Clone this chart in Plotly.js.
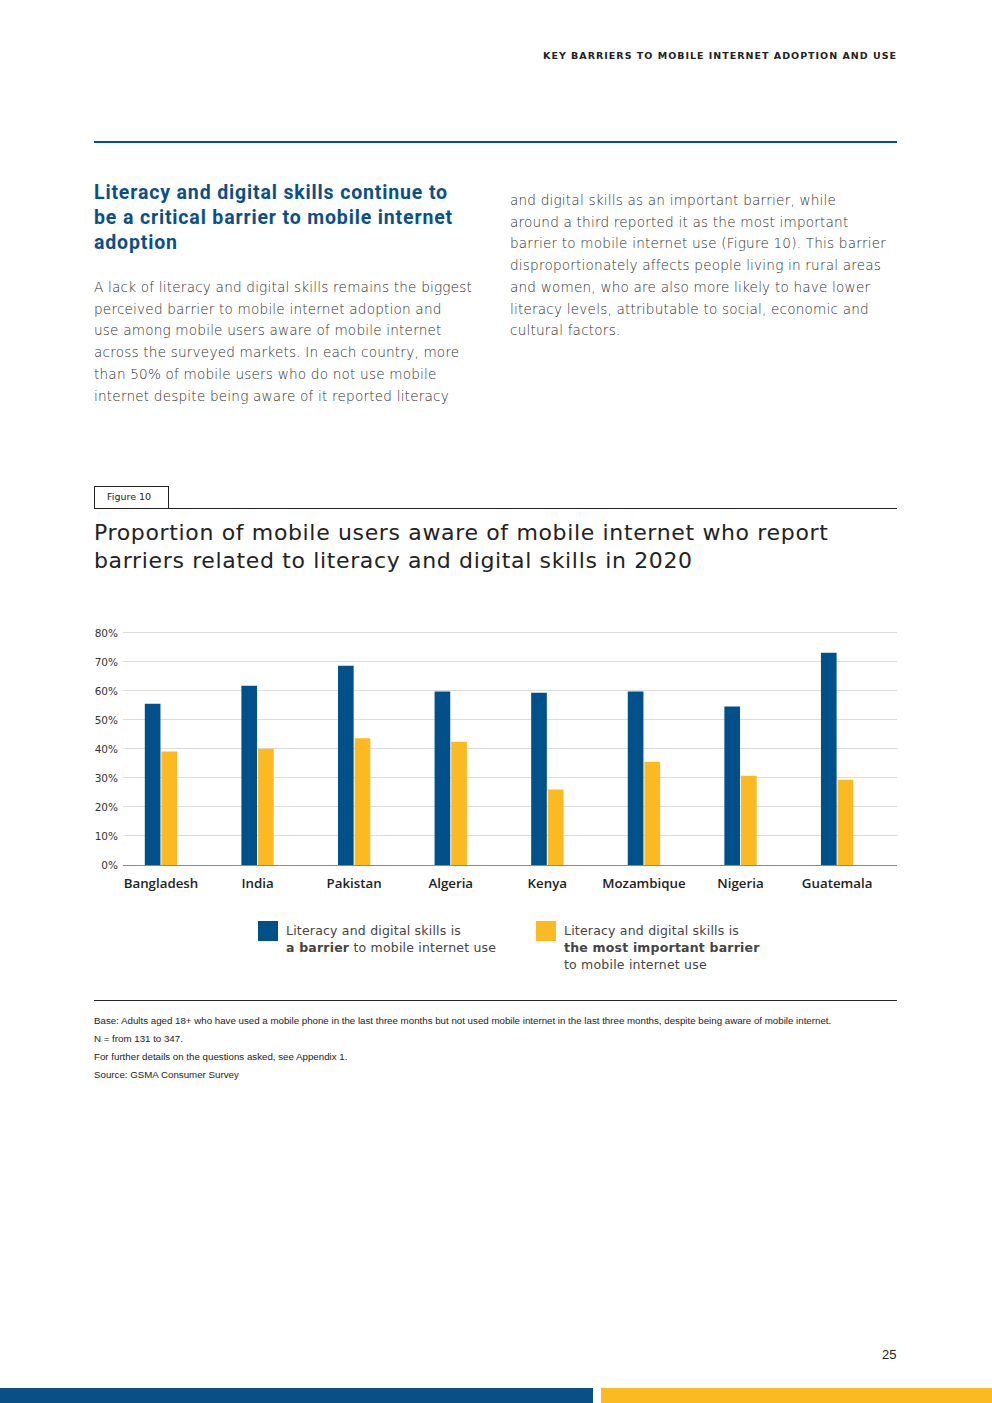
<!DOCTYPE html>
<html>
<head>
<meta charset="utf-8">
<script src="https://cdn.plot.ly/plotly-3.0.1.min.js"></script>
<style>
  html, body { margin:0; padding:0; background:#fff; }
  #page { position:relative; width:992px; height:1403px; overflow:hidden; font-family:"DejaVu Sans", sans-serif; color:#333; }
  .abs { position:absolute; white-space:pre; }
  #chart { position:absolute; left:0; top:0; width:992px; height:1403px; }
  .hdr { right:95px; top:50px; font-size:9.5px; font-weight:bold; letter-spacing:1.0px; color:#222; }
  .rule { position:absolute; left:94px; width:803px; }
  .heading { left:94px; top:180px; font-family:Roboto, sans-serif; font-weight:bold; color:#0B4F87; font-size:19.5px; line-height:25px; letter-spacing:0.85px; }
  .body { font-size:13.6px; line-height:21.7px; color:#2e2e2e; font-family:"DejaVu Sans", sans-serif; font-weight:300; letter-spacing:0.2px; }
  .title { left:94px; top:519px; font-size:22px; line-height:28px; color:#222; letter-spacing:0.65px; }
  .leg { font-size:12.5px; line-height:17px; color:#444; letter-spacing:0.2px; }
  .sw { position:absolute; width:20px; height:20px; }
  .foot { left:94px; font-family:"Liberation Sans", sans-serif; font-size:9.72px; color:#222; }
</style>
</head>
<body>
<div id="page">
  <div id="chart"></div>

  <div class="abs hdr">KEY BARRIERS TO MOBILE INTERNET ADOPTION AND USE</div>
  <div class="rule" style="top:141px;height:2px;background:#0B4F87;"></div>

  <div class="abs heading">Literacy and digital skills continue to
be a critical barrier to mobile internet
adoption</div>

  <div class="abs body" style="left:94px;top:277px;">A lack of literacy and digital skills remains the biggest
perceived barrier to mobile internet adoption and
use among mobile users aware of mobile internet
across the surveyed markets. In each country, more
than 50% of mobile users who do not use mobile
internet despite being aware of it reported literacy</div>

  <div class="abs body" style="left:510px;top:190px;">and digital skills as an important barrier, while
around a third reported it as the most important
barrier to mobile internet use (Figure 10). This barrier
disproportionately affects people living in rural areas
and women, who are also more likely to have lower
literacy levels, attributable to social, economic and
cultural factors.</div>

  <div style="position:absolute;left:94px;top:486px;width:73px;height:21px;border:1px solid #222;border-bottom:none;"></div>
  <div class="abs" style="left:107px;top:491px;font-size:9.5px;color:#222;">Figure 10</div>
  <div class="rule" style="top:508px;height:1px;background:#222;"></div>

  <div class="abs title">Proportion of mobile users aware of mobile internet who report
barriers related to literacy and digital skills in 2020</div>

  <div class="sw" style="left:258px;top:921px;background:#00508A;"></div>
  <div class="abs leg" style="left:286px;top:922px;">Literacy and digital skills is
<b>a barrier</b> to mobile internet use</div>
  <div class="sw" style="left:536px;top:921px;background:#FBBA22;"></div>
  <div class="abs leg" style="left:564px;top:922px;">Literacy and digital skills is
<b>the most important barrier</b>
to mobile internet use</div>

  <div class="rule" style="top:1000px;height:1px;background:#222;"></div>
  <div class="abs foot" style="top:1015px;">Base: Adults aged 18+ who have used a mobile phone in the last three months but not used mobile internet in the last three months, despite being aware of mobile internet.</div>
  <div class="abs foot" style="top:1033px;">N = from 131 to 347.</div>
  <div class="abs foot" style="top:1051px;">For further details on the questions asked, see Appendix 1.</div>
  <div class="abs foot" style="top:1069px;">Source: GSMA Consumer Survey</div>

  <div class="abs" style="left:882px;top:1347px;font-size:13px;color:#222;font-family:'Liberation Sans',sans-serif;">25</div>

  <div style="position:absolute;left:0;top:1388px;width:593px;height:15px;background:#0B4F87;"></div>
  <div style="position:absolute;left:601px;top:1388px;width:391px;height:15px;background:#FBBA22;"></div>
</div>

<script>
// Data
const countries = ["Bangladesh", "India", "Pakistan", "Algeria", "Kenya", "Mozambique", "Nigeria", "Guatemala"];
const barrierValues = [55.6, 61.8, 68.7, 59.8, 59.4, 59.8, 54.6, 73.2];
const mostImportantValues = [39.1, 40.1, 43.7, 42.5, 26.0, 35.6, 30.8, 29.4];
const seriesNames = ["Literacy and digital skills is a barrier to mobile internet use",
                     "Literacy and digital skills is the most important barrier to mobile internet use"];
const yTickValues = [0, 10, 20, 30, 40, 50, 60, 70, 80];
const yTickLabels = ["0%", "10%", "20%", "30%", "40%", "50%", "60%", "70%", "80%"];

const traces = [
  { type: "bar", name: seriesNames[0], x: countries, y: barrierValues,
    marker: { color: "#00508A" }, hoverinfo: "x+y" },
  { type: "bar", name: seriesNames[1], x: countries, y: mostImportantValues,
    marker: { color: "#FBBA22" }, hoverinfo: "x+y" }
];

const layout = {
  width: 992, height: 1403,
  margin: { l: 123, r: 95, t: 629.8, b: 537.7, pad: 0 },
  paper_bgcolor: "rgba(0,0,0,0)",
  plot_bgcolor: "rgba(0,0,0,0)",
  showlegend: false,
  barmode: "group",
  bargap: 0.655,
  bargroupgap: 0.06,
  font: { family: "DejaVu Sans, sans-serif", color: "#333" },
  xaxis: {
    type: "category",
    range: [-0.393, 7.62],
    showgrid: false,
    showline: true, linecolor: "#8a8a8a", linewidth: 1,
    ticks: "", tickfont: { size: 13.3, color: "#222", family: "Open Sans, sans-serif", weight: 600 },
    tickvals: countries, ticktext: countries,
    ticklabelstandoff: 6,
    fixedrange: true
  },
  yaxis: {
    range: [0, 81],
    tickvals: yTickValues, ticktext: yTickLabels,
    showgrid: true, gridcolor: "#dcdcdc", gridwidth: 1,
    zeroline: false,
    ticks: "", tickfont: { size: 10.5, color: "#333" },
    ticklabelstandoff: 4,
    fixedrange: true
  }
};

Plotly.newPlot("chart", traces, layout, { displayModeBar: false, staticPlot: true });
</script>
</body>
</html>
